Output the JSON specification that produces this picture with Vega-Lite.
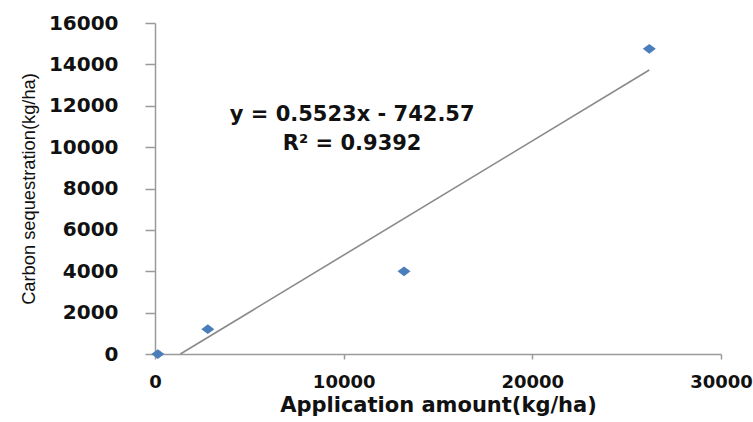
{
  "$schema": "https://vega.github.io/schema/vega-lite/v6.json",
  "autosize": "none",
  "width": 566,
  "height": 331,
  "padding": {"left": 155, "top": 23, "right": 32, "bottom": 68},
  "background": "white",
  "config": {"view": {"stroke": null}},
  "datasets": {
    "points": [
      {"amount": 150, "carbon": 0},
      {"amount": 2800, "carbon": 1200},
      {"amount": 13200, "carbon": 4000},
      {"amount": 26200, "carbon": 14750}
    ],
    "trend": [
      {"amount": 1345, "carbon": 0},
      {"amount": 26200, "carbon": 13727}
    ],
    "labels": [
      {"amount": 10450, "carbon": 11550, "text": "y = 0.5523x  - 742.57"},
      {"amount": 10450, "carbon": 10150, "text": "R² = 0.9392"}
    ]
  },
  "layer": [
    {
      "data": {"name": "trend"},
      "mark": {"type": "line", "color": "#8a8a8a", "strokeWidth": 1.6},
      "encoding": {
        "x": {"field": "amount", "type": "quantitative"},
        "y": {"field": "carbon", "type": "quantitative"}
      }
    },
    {
      "data": {"name": "points"},
      "mark": {"type": "point", "shape": "M-1,0L0,-0.75L1,0L0,0.75Z", "filled": true, "color": "#4a7ebb", "size": 169, "opacity": 1},
      "encoding": {
        "x": {
          "field": "amount", "type": "quantitative",
          "scale": {"domain": [0, 30000], "nice": false, "zero": true},
          "axis": {
            "title": "Application amount(kg/ha)",
            "values": [0, 10000, 20000, 30000],
            "format": "d",
            "grid": false,
            "domainColor": "#9a9a9a", "domainWidth": 1.5,
            "tickColor": "#9a9a9a", "tickSize": 5, "tickWidth": 1.5,
            "labelFont": "DejaVu Sans", "labelFontWeight": "bold", "labelFontSize": 18, "labelColor": "#111111",
            "labelPadding": 14, "labelFlush": false, "labelOverlap": false,
            "titleFont": "DejaVu Sans", "titleFontWeight": "bold", "titleFontSize": 21, "titleColor": "#111111",
            "titlePadding": 3
          }
        },
        "y": {
          "field": "carbon", "type": "quantitative",
          "scale": {"domain": [0, 16000], "nice": false},
          "axis": {
            "title": "Carbon sequestration(kg/ha)",
            "values": [0, 2000, 4000, 6000, 8000, 10000, 12000, 14000, 16000],
            "format": "d",
            "grid": false,
            "domainColor": "#9a9a9a", "domainWidth": 1.5,
            "tickColor": "#9a9a9a", "tickSize": 10, "tickWidth": 1.5,
            "labelFont": "DejaVu Sans", "labelFontWeight": "bold", "labelFontSize": 20, "labelColor": "#111111",
            "labelPadding": 27, "labelFlush": false, "labelOverlap": false,
            "titleFont": "Liberation Sans", "titleFontWeight": "normal", "titleFontSize": 18.3, "titleColor": "#111111",
            "titlePadding": 10
          }
        }
      }
    },
    {
      "data": {"name": "labels"},
      "mark": {"type": "text", "font": "DejaVu Sans", "fontWeight": "bold", "fontSize": 21, "color": "#111111", "align": "center", "baseline": "middle"},
      "encoding": {
        "x": {"field": "amount", "type": "quantitative"},
        "y": {"field": "carbon", "type": "quantitative"},
        "text": {"field": "text"}
      }
    }
  ]
}
